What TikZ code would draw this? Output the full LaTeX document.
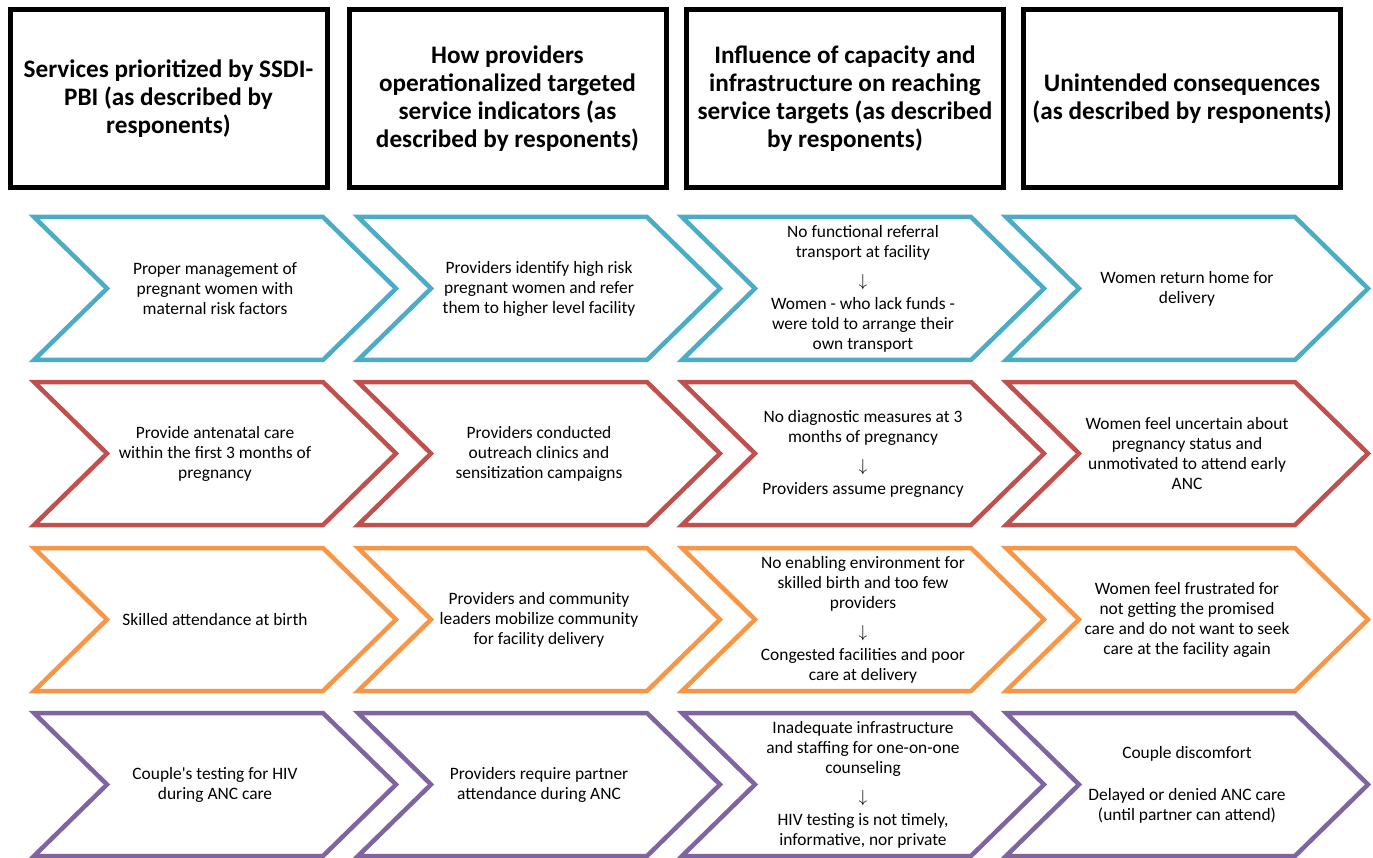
\documentclass[tikz,border=0pt]{standalone}
\usepackage{fontspec}
\setmainfont{Carlito}
\definecolor{cblue}{HTML}{4BACC6}
\definecolor{cred}{HTML}{C0504D}
\definecolor{corange}{HTML}{F79646}
\definecolor{cpurple}{HTML}{8064A2}
\tikzset{
  headbox/.style={draw=black, line width=5pt, minimum width=317pt, minimum height=178pt, align=center, inner sep=0pt, font=\bfseries\fontsize{25.2}{28}\selectfont},
  chevline/.style={line width=4.5pt, line join=miter},
  chevtext/.style={align=center, inner sep=0pt, font=\fontsize{17.4}{20}\selectfont},
}
\newcommand{\dnarr}{\\[9pt]$\downarrow$\\[3pt]}
\begin{document}
\begin{tikzpicture}[x=1pt,y=-1pt]
\useasboundingbox[fill=white] (0,0) rectangle (1373,858);
% headers
\node[headbox] (h1) at (168.5,99) {Services prioritized by SSDI-\\PBI (as described by\\responents)};
\node[headbox] (h2) at (507.5,99) {How providers\\operationalized targeted\\service indicators (as\\described by responents)};
\node[headbox] (h3) at (845,99) {Influence of capacity and\\infrastructure on reaching\\service targets (as described\\by responents)};
\node[headbox] (h4) at (1182,99) {Unintended consequences\\(as described by responents)};
% chevrons
\foreach \col/\x in {1/34,2/358,3/682,4/1006}{
  \foreach \row/\y/\c in {1/217/cblue,2/382/cred,3/548/corange,4/713/cpurple}{
    \draw[chevline, draw=\c] (\x,\y) -- ++(289,0) -- ++(73,71.5) -- ++(-73,71.5) -- ++(-289,0) -- ++(73,-71.5) -- cycle;
  }
}
% row 1
\node[chevtext] (t11) at (215,289) {Proper management of\\pregnant women with\\maternal risk factors};
\node[chevtext] (t12) at (539,289) {Providers identify high risk\\pregnant women and refer\\them to higher level facility};
\node[chevtext] (t13) at (863,288.5) {No functional referral\\transport at facility\dnarr Women - who lack funds -\\were told to arrange their\\own transport};
\node[chevtext] (t14) at (1187,288.5) {Women return home for\\delivery};
% row 2
\node[chevtext] (t21) at (215,454) {Provide antenatal care\\within the first 3 months of\\pregnancy};
\node[chevtext] (t22) at (539,454) {Providers conducted\\outreach clinics and\\sensitization campaigns};
\node[chevtext] (t23) at (863,453.5) {No diagnostic measures at 3\\months of pregnancy\dnarr Providers assume pregnancy};
\node[chevtext] (t24) at (1187,453.5) {Women feel uncertain about\\pregnancy status and\\unmotivated to attend early\\ANC};
% row 3
\node[chevtext] (t31) at (215,619.5) {Skilled attendance at birth};
\node[chevtext] (t32) at (539,619.5) {Providers and community\\leaders mobilize community\\for facility delivery};
\node[chevtext] (t33) at (863,619.5) {No enabling environment for\\skilled birth and too few\\providers\dnarr Congested facilities and poor\\care at delivery};
\node[chevtext] (t34) at (1187,619.5) {Women feel frustrated for\\not getting the promised\\care and do not want to seek\\care at the facility again};
% row 4
\node[chevtext] (t41) at (215,784.5) {Couple\textquotesingle s testing for HIV\\during ANC care};
\node[chevtext] (t42) at (539,784.5) {Providers require partner\\attendance during ANC};
\node[chevtext] (t43) at (863,784.5) {Inadequate infrastructure\\and staffing for one-on-one\\counseling\dnarr HIV testing is not timely,\\informative, nor private};
\node[chevtext] (t44) at (1187,784.5) {Couple discomfort\\[22pt]Delayed or denied ANC care\\(until partner can attend)};
\end{tikzpicture}
\end{document}
